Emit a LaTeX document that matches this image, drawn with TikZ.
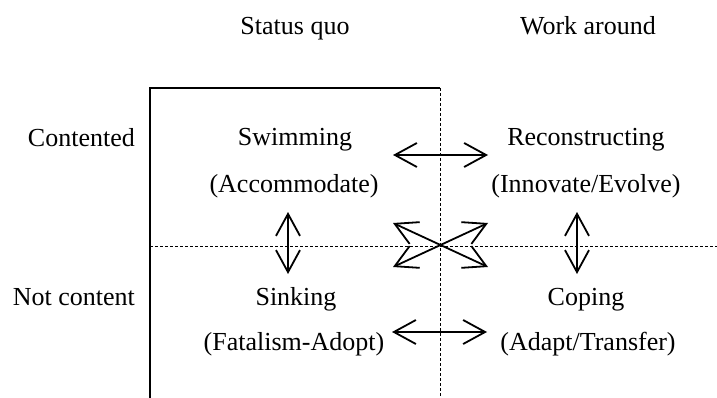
\documentclass[tikz,border=0pt]{standalone}
\usepackage{fontspec}
\setmainfont{Liberation Serif}
\usetikzlibrary{arrows.meta}
\begin{document}
\begin{tikzpicture}[x=1pt,y=-1pt,
  lbl/.style={anchor=base,inner sep=0pt,font=\fontsize{26}{30}\selectfont},
  frameline/.style={line width=2pt},
  guide/.style={line width=1pt,dash pattern=on 3pt off 2pt},
  barb/.tip={Straight Barb[length=22pt,width=24pt,line width=1.8pt]},
  link/.style={line width=1.8pt,barb-barb}]
\useasboundingbox (0,0) rectangle (717,398);

% column and row headings
\node[lbl] (hsq) at (295,35) {Status quo};
\node[lbl] (hwa) at (588,35) {Work around};
\node[lbl,anchor=base east] (hc) at (135,147) {Contented};
\node[lbl,anchor=base east] (hn) at (135,305) {Not content};

% quadrant frame and dividers
\coordinate (fTL) at (150,88);
\coordinate (fTM) at (440,88);
\coordinate (fBL) at (150,398);
\coordinate (fBM) at (440,398);
\coordinate (mL) at (150,246);
\coordinate (mR) at (717,246);
\draw[frameline] (fBL) -- (fTL) -- (fTM);
\draw[guide] (fTM) -- (fBM);
\draw[guide] (mL) -- (mR);

% quadrant labels
\node[lbl] (sw) at (295,146) {Swimming};
\node[lbl] (swa) at (294,193) {(Accommodate)};
\node[lbl] (re) at (586,146) {Reconstructing};
\node[lbl] (rea) at (586,193) {(Innovate/Evolve)};
\node[lbl] (si) at (296,305) {Sinking};
\node[lbl] (sia) at (294,350) {(Fatalism-Adopt)};
\node[lbl] (co) at (586,305) {Coping};
\node[lbl] (coa) at (588,350) {(Adapt/Transfer)};

% arrow end points
\coordinate (tL) at (393,155);
\coordinate (tR) at (488,155);
\coordinate (bL) at (392,332);
\coordinate (bR) at (487,332);
\coordinate (lT) at (288,212);
\coordinate (lB) at (288,274);
\coordinate (rT) at (577,212);
\coordinate (rB) at (577,274);
\coordinate (dTL) at (393,223);
\coordinate (dBR) at (488,267);
\coordinate (dBL) at (393,267);
\coordinate (dTR) at (488,223);

\draw[link] (tL) -- (tR);
\draw[link] (bL) -- (bR);
\draw[link] (lT) -- (lB);
\draw[link] (rT) -- (rB);
\draw[link] (dTL) -- (dBR);
\draw[link] (dBL) -- (dTR);
\end{tikzpicture}
\end{document}
